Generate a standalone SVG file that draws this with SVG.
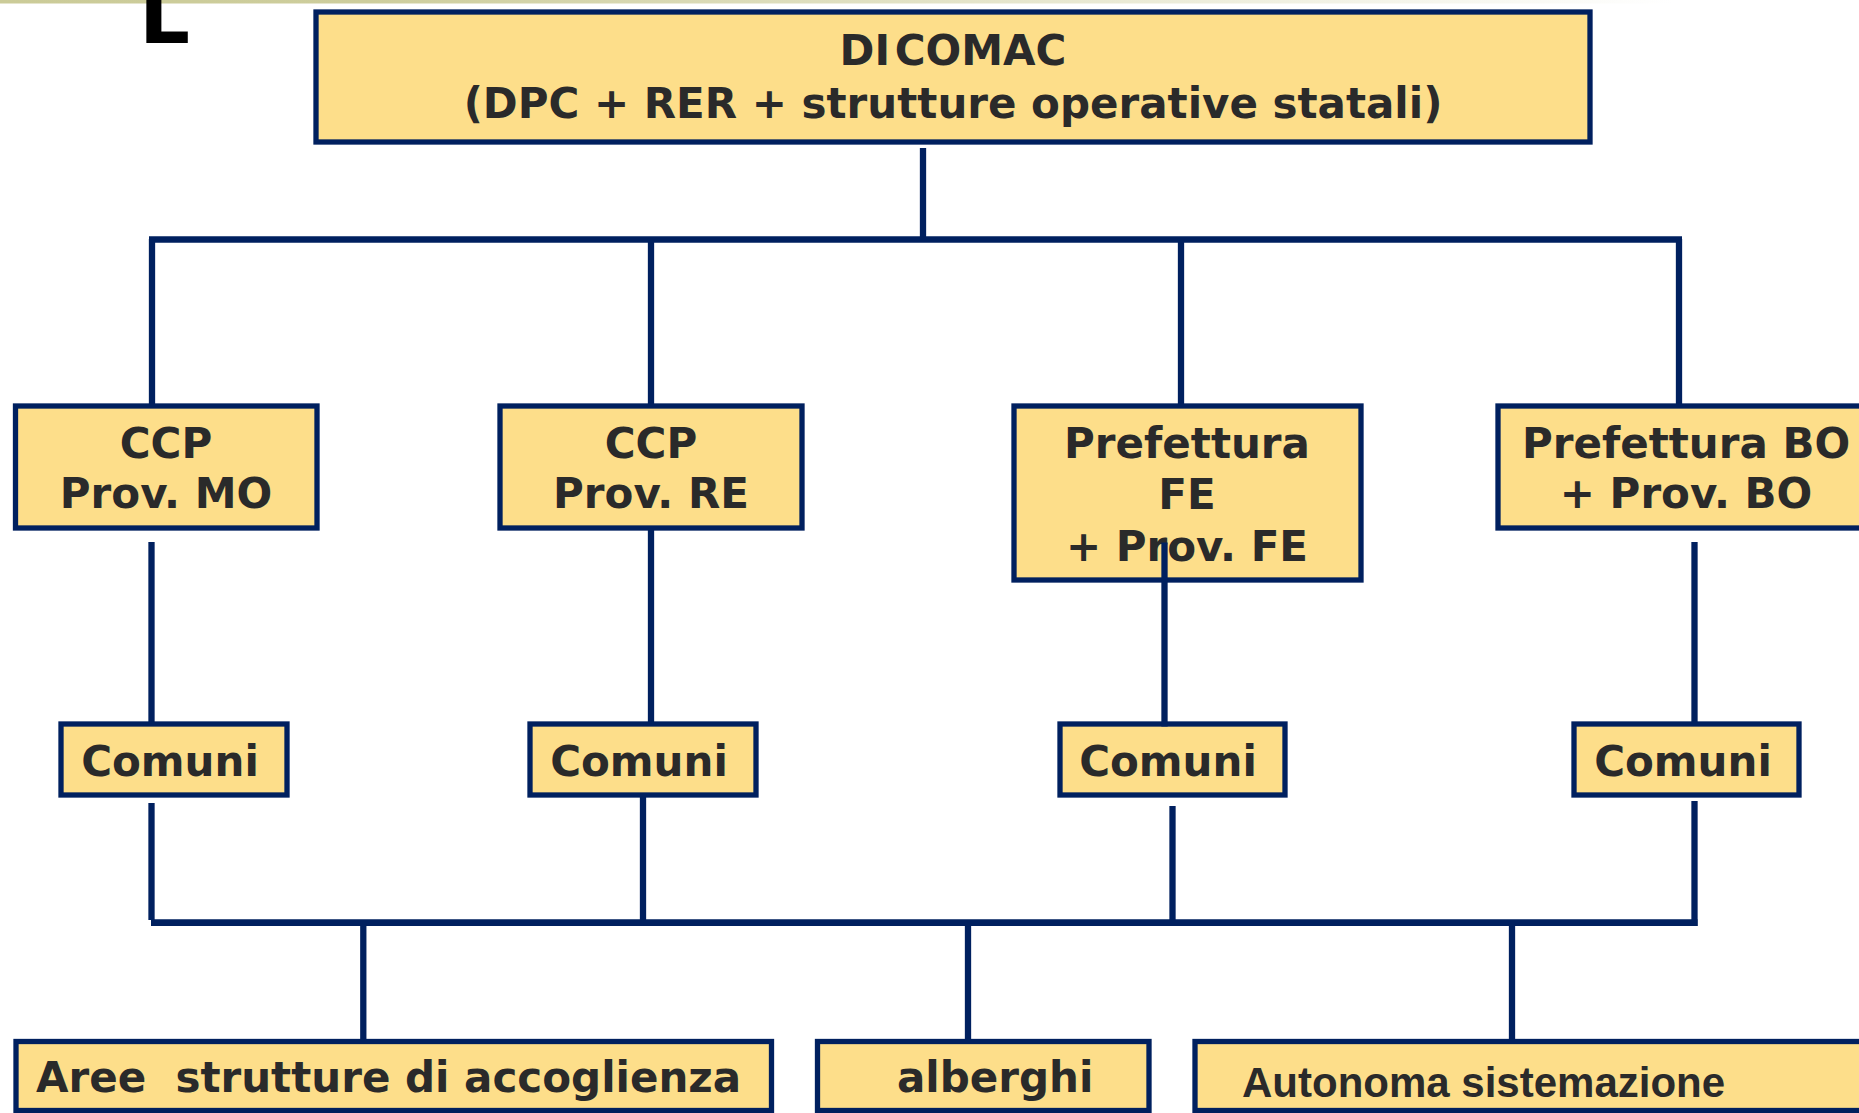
<svg xmlns="http://www.w3.org/2000/svg" width="1859" height="1113" viewBox="0 0 1859 1113">
<defs>
<linearGradient id="topbar" x1="0" y1="0" x2="1859" y2="0" gradientUnits="userSpaceOnUse">
<stop offset="0" stop-color="#CBCB98"/>
<stop offset="0.2" stop-color="#CDCD9C"/>
<stop offset="0.9" stop-color="#FFFFFF"/>
</linearGradient>
</defs>
<style>
.box{fill:#FDDE8A;stroke:#00205F;stroke-width:5.3}
.t{font-family:"DejaVu Sans",Verdana,sans-serif;font-weight:bold;font-size:42px;fill:#2A2A2A;text-anchor:middle}
.ts{text-anchor:start}
.ar{font-family:"Liberation Sans",Arial,sans-serif}
.ln{stroke:#00205F;stroke-width:6.3;fill:none}
.bar{stroke:#00205F;stroke-width:6.7;fill:none}
</style>
<rect x="0" y="0" width="1859" height="1113" fill="#FFFFFF"/>
<rect x="0" y="0" width="1859" height="3.5" fill="url(#topbar)"/>
<text x="139" y="43" font-family="DejaVu Sans, sans-serif" font-weight="bold" font-size="80" fill="#000000">L</text>

<g id="node-dicomac">
<rect class="box" x="316" y="12" width="1274" height="130"/>
<text class="t" x="953" y="65" word-spacing="-10">DI COMAC</text>
<text class="t" x="953" y="118">(DPC + RER + strutture operative statali)</text>
</g>
<g id="node-ccp-mo">
<rect class="box" x="15.5" y="406" width="301.5" height="122"/>
<text class="t" x="166" y="458">CCP</text>
<text class="t" x="166" y="508">Prov. MO</text>
</g>
<g id="node-ccp-re">
<rect class="box" x="500" y="406" width="302" height="122"/>
<text class="t" x="651" y="458">CCP</text>
<text class="t" x="651" y="508">Prov. RE</text>
</g>
<g id="node-pref-fe">
<rect class="box" x="1014" y="406" width="347" height="174"/>
<text class="t" x="1187" y="458">Prefettura</text>
<text class="t" x="1187" y="509">FE</text>
<text class="t" x="1187" y="561">+ Prov. FE</text>
</g>
<g id="node-pref-bo">
<rect class="box" x="1498" y="406" width="420" height="122"/>
<text class="t" x="1686" y="458">Prefettura BO</text>
<text class="t" x="1686" y="508">+ Prov. BO</text>
</g>
<g id="node-comuni-mo">
<rect class="box" x="61" y="724" width="226" height="71"/>
<text class="t" x="170" y="776">Comuni</text>
</g>
<g id="node-comuni-re">
<rect class="box" x="530" y="724" width="226" height="71"/>
<text class="t" x="639" y="776">Comuni</text>
</g>
<g id="node-comuni-fe">
<rect class="box" x="1060" y="724" width="225" height="71"/>
<text class="t" x="1168" y="776">Comuni</text>
</g>
<g id="node-comuni-bo">
<rect class="box" x="1574" y="724" width="225" height="71"/>
<text class="t" x="1683" y="776">Comuni</text>
</g>
<g id="node-aree">
<rect class="box" x="16" y="1041.5" width="755.5" height="69"/>
<text class="t ts" x="36" y="1092" style="white-space:pre">Aree  strutture di accoglienza</text>
</g>
<g id="node-alberghi">
<rect class="box" x="817.5" y="1041.5" width="331.5" height="69"/>
<text class="t ts" x="897" y="1092">alberghi</text>
</g>
<g id="node-autonoma">
<rect class="box" x="1195" y="1041.5" width="720" height="69"/>
<text class="t ts ar" x="1242" y="1097">Autonoma sistemazione</text>
</g>

<g id="connectors">
<line class="ln" x1="923" y1="148" x2="923" y2="237"/>
<line class="bar" x1="149" y1="239.5" x2="1682" y2="239.5"/>
<line class="ln" x1="152" y1="239" x2="152" y2="404"/>
<line class="ln" x1="651" y1="239" x2="651" y2="404"/>
<line class="ln" x1="1181" y1="239" x2="1181" y2="404"/>
<line class="ln" x1="1679" y1="239" x2="1679" y2="404"/>
<line class="ln" x1="151.5" y1="542" x2="151.5" y2="722"/>
<line class="ln" x1="651" y1="530" x2="651" y2="722"/>
<line class="ln" x1="1164.5" y1="542.5" x2="1164.5" y2="726.5"/>
<line class="ln" x1="1694.5" y1="542" x2="1694.5" y2="722"/>
<line class="ln" x1="151.5" y1="803" x2="151.5" y2="920"/>
<line class="ln" x1="643" y1="797" x2="643" y2="920"/>
<line class="ln" x1="1172.5" y1="806" x2="1172.5" y2="920"/>
<line class="ln" x1="1694.5" y1="801" x2="1694.5" y2="926"/>
<line class="bar" x1="151" y1="922.7" x2="1697.5" y2="922.7"/>
<line class="ln" x1="363.3" y1="923" x2="363.3" y2="1039"/>
<line class="ln" x1="968" y1="923" x2="968" y2="1039"/>
<line class="ln" x1="1512" y1="923" x2="1512" y2="1039"/>
</g>
</svg>
